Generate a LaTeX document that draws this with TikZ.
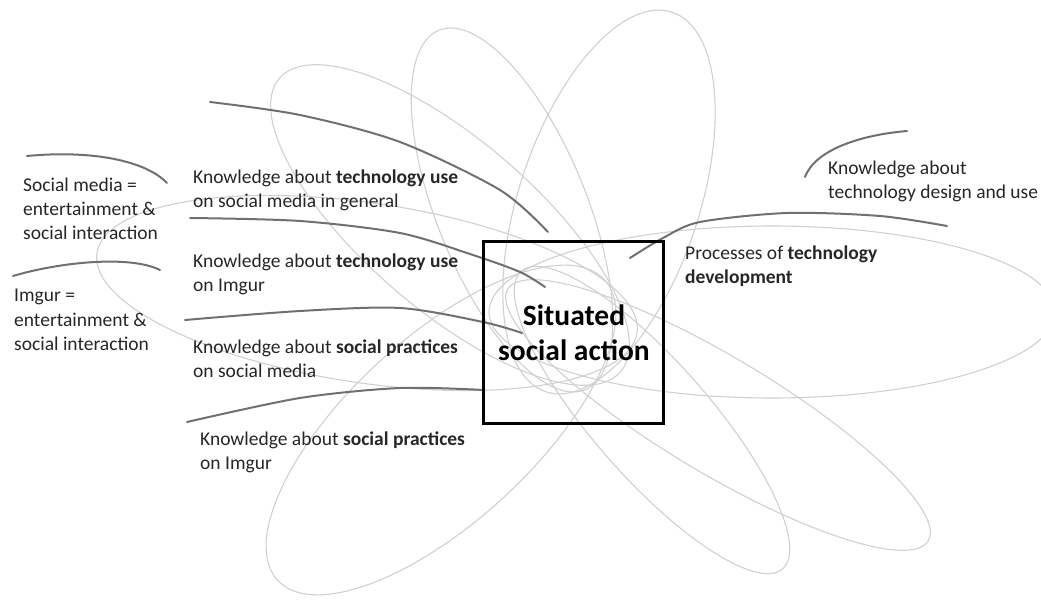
\documentclass[tikz,border=0pt]{standalone}
\usepackage{fontspec}
\setmainfont{Carlito}
\definecolor{petalgray}{RGB}{208,208,208}
\definecolor{sepgray}{RGB}{112,112,112}
\begin{document}
\begin{tikzpicture}[x=1bp,y=-1bp,
  petal/.style={draw=petalgray, line width=1.1bp},
  sepline/.style={draw=sepgray, line width=2bp, line cap=round},
  lbl/.style={anchor=base west, inner sep=0pt, text=black!85, font=\fontsize{19.5bp}{24bp}\selectfont},
  actionbox/.style={draw=black, line width=3bp, minimum width=180bp, minimum height=181bp, inner sep=0pt},
]
\useasboundingbox (0,0) rectangle (1041,600);
\clip (0,0) rectangle (1041,600);

% petals
\draw[petal, rotate around={171.6:(367,293)}] (367,293) ellipse [x radius=273, y radius=90];
\draw[petal, rotate around={139.3:(450,225)}] (450,225) ellipse [x radius=225, y radius=85];
\draw[petal, rotate around={112.1:(512,210)}] (512,210) ellipse [x radius=194, y radius=75];
\draw[petal, rotate around={71.6:(609,202)}] (609,202) ellipse [x radius=200, y radius=90];
\draw[petal] (772,312) ellipse [x radius=283, y radius=86];
\draw[petal, rotate around={-30.9:(718,415)}] (718,415) ellipse [x radius=245, y radius=58];
\draw[petal, rotate around={-48.7:(652,420)}] (652,420) ellipse [x radius=198, y radius=58];
\draw[petal, rotate around={-137.4:(441,430)}] (441,430) ellipse [x radius=222, y radius=92];

% dark separator curves
\draw[sepline] plot[smooth] coordinates {(210,102) (300,115) (400,142) (500,190) (548,232)};
\draw[sepline] (27,156) .. controls (90,150) and (145,160) .. (167,183);
\draw[sepline] plot[smooth] coordinates {(190,218) (300,221) (400,233) (470,254) (520,272) (545,287)};
\draw[sepline] (13,276) .. controls (60,262) and (130,255) .. (160,270);
\draw[sepline] plot[smooth] coordinates {(185,320) (300,311) (400,308) (483,322) (522,333)};
\draw[sepline] plot[smooth] coordinates {(187,422) (300,398) (400,388) (484,390)};
\draw[sepline] plot[smooth] coordinates {(630,258) (663,238) (700,222) (787,213) (880,216) (947,226)};
\draw[sepline] (805,177) .. controls (815,150) and (860,135) .. (907,131);

% central box
\node[actionbox] (box) at (573,332.5) {};
\node[anchor=base, inner sep=0pt, font=\bfseries\fontsize{29.5bp}{35bp}\selectfont] (title) at (574,325)
  {\begin{tabular}[t]{@{}c@{}}Situated\\social action\end{tabular}};

% labels
\node[lbl] (t1) at (23,192) {\begin{tabular}[t]{@{}l@{}}Social media =\\entertainment \&\\social interaction\end{tabular}};
\node[lbl] (t2) at (14,302) {\begin{tabular}[t]{@{}l@{}}Imgur =\\entertainment \&\\social interaction\end{tabular}};
\node[lbl] (t3) at (193,184) {\begin{tabular}[t]{@{}l@{}}Knowledge about \textbf{technology use}\\on social media in general\end{tabular}};
\node[lbl] (t4) at (193,268) {\begin{tabular}[t]{@{}l@{}}Knowledge about \textbf{technology use}\\on Imgur\end{tabular}};
\node[lbl] (t5) at (193,353) {\begin{tabular}[t]{@{}l@{}}Knowledge about \textbf{social practices}\\on social media\end{tabular}};
\node[lbl] (t6) at (200,445) {\begin{tabular}[t]{@{}l@{}}Knowledge about \textbf{social practices}\\on Imgur\end{tabular}};
\node[lbl] (t7) at (685,260) {\begin{tabular}[t]{@{}l@{}}Processes of \textbf{technology}\\\textbf{development}\end{tabular}};
\node[lbl] (t8) at (828,175) {\begin{tabular}[t]{@{}l@{}}Knowledge about\\technology design and use\end{tabular}};
\end{tikzpicture}
\end{document}
